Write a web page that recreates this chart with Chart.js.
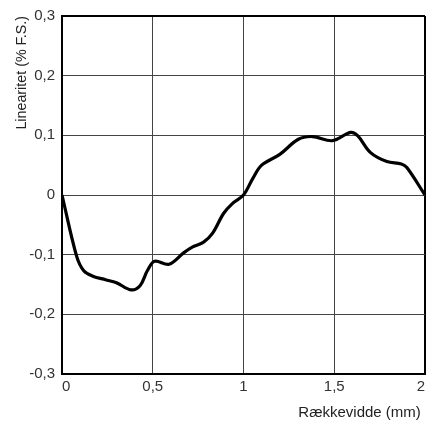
<!DOCTYPE html>
<html>
<head>
<meta charset="utf-8">
<script src="https://cdn.jsdelivr.net/npm/chart.js@4/dist/chart.umd.min.js"></script>
<style>
  html, body { margin: 0; padding: 0; background: #fff; }
  canvas { display: block; }
</style>
</head>
<body>
<canvas id="myChart" width="429" height="422"></canvas>
<script>
// Measured curve (range in mm, linearity in % F.S.)
const rangeMm = [0, 0.08, 0.12, 0.17, 0.24, 0.30, 0.38, 0.43, 0.47, 0.51, 0.59, 0.67, 0.72, 0.78, 0.83, 0.89, 0.94, 1.0,
                 1.05, 1.10, 1.20, 1.30, 1.38, 1.49, 1.59, 1.63, 1.70, 1.79, 1.87, 1.90, 2.0];
const linearity = [0, -0.102, -0.127, -0.136, -0.142, -0.147, -0.159, -0.152, -0.127, -0.111, -0.116, -0.097, -0.087, -0.079, -0.064, -0.031, -0.014, 0,
                   0.027, 0.050, 0.068, 0.093, 0.098, 0.091, 0.105, 0.099, 0.071, 0.056, 0.052, 0.046, 0];

// Tick values and labels
const xTicks = [0, 0.5, 1, 1.5, 2];
const xTickLabels = ['0', '0,5', '1', '1,5', '2'];
const yTicks = [-0.3, -0.2, -0.1, 0, 0.1, 0.2, 0.3];
const yTickLabels = ['-0,3', '-0,2', '-0,1', '0', '0,1', '0,2', '0,3'];

const points = rangeMm.map((x, i) => ({ x: x, y: linearity[i] }));

const font = { family: '"Liberation Sans", Arial, sans-serif', size: 15 };

new Chart(document.getElementById('myChart'), {
    type: 'line',
    data: {
        datasets: [{
            data: points,
            borderColor: '#000',
            borderWidth: 3.2,
            pointRadius: 0,
            fill: false,
            tension: 0.35
        }]
    },
    options: {
        responsive: false,
        animation: false,
        devicePixelRatio: 1,
        layout: { padding: { top: 12, right: 4, left: 0, bottom: 0 } },
        plugins: { legend: { display: false }, tooltip: { enabled: false } },
        scales: {
            x: {
                type: 'linear',
                min: 0,
                max: 2,
                afterBuildTicks: s => { s.ticks = xTicks.map(v => ({ value: v })); },
                afterFit: s => { s.height = 48; },
                ticks: {
                    autoSkip: false,
                    maxRotation: 0,
                    align: 'inner',
                    padding: 4,
                    color: '#333',
                    font: font,
                    callback: (v, i) => xTickLabels[i]
                },
                grid: {
                    drawTicks: false,
                    color: ctx => ctx.index === xTicks.length - 1 ? '#000' : '#444',
                    lineWidth: ctx => ctx.index === xTicks.length - 1 ? 2 : 1
                },
                border: { display: true, color: '#000', width: 2 },
                title: {
                    display: true,
                    text: 'Rækkevidde (mm) ',
                    align: 'end',
                    color: '#222',
                    font: font,
                    padding: { top: 5, bottom: 0 }
                }
            },
            y: {
                type: 'linear',
                min: -0.3,
                max: 0.3,
                afterBuildTicks: s => { s.ticks = yTicks.map(v => ({ value: v })); },
                afterFit: s => { s.width = 62; },
                ticks: {
                    autoSkip: false,
                    padding: 7,
                    color: '#333',
                    font: font,
                    callback: (v, i) => yTickLabels[i]
                },
                grid: {
                    drawTicks: false,
                    color: ctx => ctx.index === yTicks.length - 1 ? '#000' : '#444',
                    lineWidth: ctx => ctx.index === yTicks.length - 1 ? 2 : 1
                },
                border: { display: true, color: '#000', width: 2 },
                title: {
                    display: true,
                    text: 'Linearitet (% F.S.)',
                    align: 'end',
                    color: '#222',
                    font: { family: font.family, size: 14.3 },
                    padding: { top: 13.5, bottom: 0 }
                }
            }
        }
    }
});
</script>
</body>
</html>
